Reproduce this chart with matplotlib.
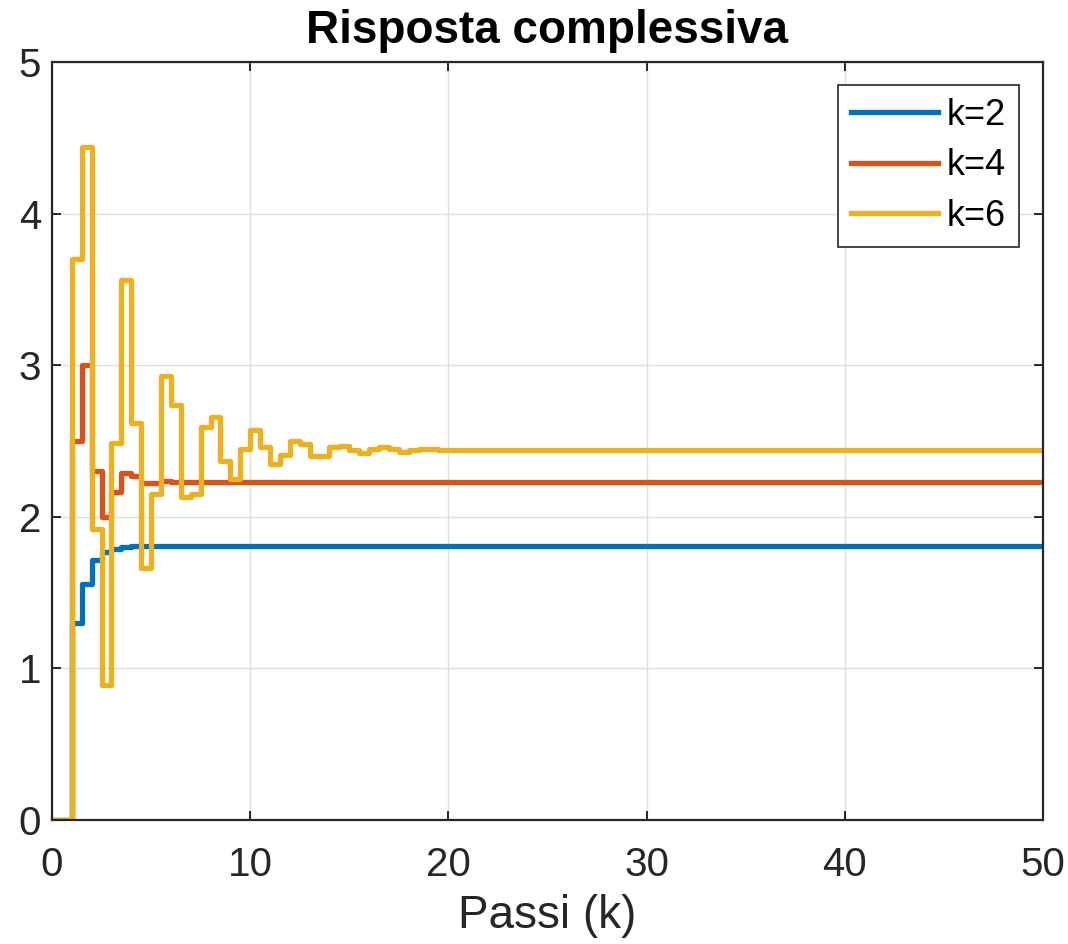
import numpy as np
import matplotlib
matplotlib.use("Agg")
import matplotlib.pyplot as plt

plt.rcParams['font.family'] = ['Liberation Sans', 'DejaVu Sans']

# passi (step 0.5 from 0 to 50)
t = np.arange(0, 50.5, 0.5)
n = len(t)

k2_head = [0, 0, 1.30, 1.56, 1.715, 1.77, 1.79, 1.80, 1.805]
k2_final = 1.81
k4_head = [0, 0, 2.50, 3.00, 2.30, 2.00, 2.165, 2.29, 2.27, 2.22, 2.225, 2.235]
k4_final = 2.23
k6_head = [0, 0, 3.70, 4.44, 1.92, 0.89, 2.49, 3.56, 2.62, 1.66, 2.15, 2.93,
           2.74, 2.13, 2.15, 2.59, 2.66, 2.37, 2.25, 2.45, 2.57, 2.46, 2.35,
           2.41, 2.50, 2.48, 2.40, 2.40, 2.46, 2.47, 2.44, 2.42, 2.45, 2.46,
           2.45, 2.43, 2.44, 2.45, 2.45, 2.44, 2.44]
k6_final = 2.44

k2 = k2_head + [k2_final] * (n - len(k2_head))
k4 = k4_head + [k4_final] * (n - len(k4_head))
k6 = k6_head + [k6_final] * (n - len(k6_head))

labels = ["k=2", "k=4", "k=6"]
colors = ["#0072BD", "#D95319", "#EDB120"]

fig = plt.figure(figsize=(10.68, 9.44), dpi=100)
ax = fig.add_axes([52 / 1068, 124 / 944, 991 / 1068, 758 / 944])

for y, lab, c in zip([k2, k4, k6], labels, colors):
    ax.step(t, y, where='post', color=c, lw=3.8, label=lab)

ax.set_xlim(0, 50)
ax.set_ylim(0, 5)
ax.set_xticks([0, 10, 20, 30, 40, 50])
ax.set_yticks([0, 1, 2, 3, 4, 5])
ax.grid(True, color='#dfdfdf', lw=1.0)
ax.set_axisbelow(True)

for s in ax.spines.values():
    s.set_color('#262626')
    s.set_linewidth(1.6)
ax.tick_params(direction='in', length=6.7, width=1.4, colors='#262626',
               top=True, right=True, labelsize=29)
ax.tick_params(axis='x', pad=19)
ax.tick_params(axis='y', pad=8)

ax.set_title("Risposta complessiva", fontsize=33, fontweight='bold', pad=14)
ax.set_xlabel("Passi (k)", fontsize=33, color='#262626', labelpad=7)

leg = ax.legend(loc='upper right', bbox_to_anchor=(0.9758, 0.9697),
                borderaxespad=0, fontsize=26, handlelength=2.4,
                handletextpad=0.25, labelspacing=0.43, borderpad=0.36,
                fancybox=False, framealpha=1, edgecolor='#262626')
leg.get_frame().set_linewidth(1.2)

fig.savefig("out.png", dpi=100)
